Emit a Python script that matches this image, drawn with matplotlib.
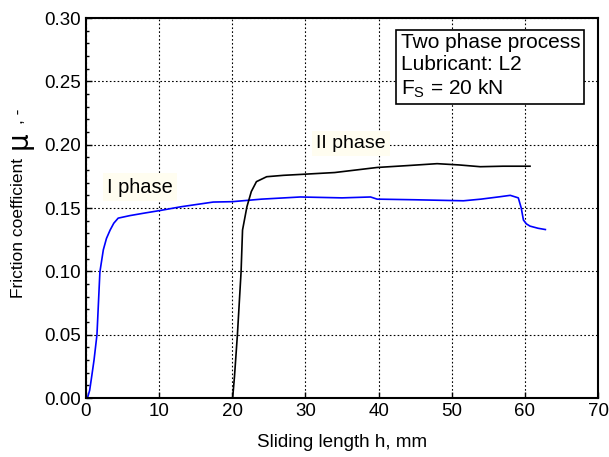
import numpy as np
import matplotlib
matplotlib.use("Agg")
from matplotlib import pyplot as plt
from matplotlib.ticker import MultipleLocator

plt.rcParams['font.family'] = ['Liberation Sans', 'DejaVu Sans']

# phase I (blue)
h_1 = [0.2, 0.5, 0.78, 1.1, 1.5, 1.9, 2.37, 2.8, 3.3, 3.8, 4.4, 6.0, 8.0,
       10.1, 13.0, 17.4, 20.0, 24.0, 29.3, 35.0, 38.9, 39.8, 45.0, 51.6,
       54.0, 56.6, 58.0, 59.1, 59.5, 59.8, 60.2, 60.7, 61.8, 62.8]
mu_1 = [0.0, 0.006, 0.017, 0.03, 0.05, 0.0995, 0.117, 0.126, 0.1326, 0.138,
        0.142, 0.144, 0.146, 0.148, 0.151, 0.1547, 0.155, 0.157, 0.1587,
        0.158, 0.1587, 0.157, 0.1565, 0.1557, 0.157, 0.1589, 0.160, 0.158,
        0.150, 0.1405, 0.1375, 0.1357, 0.134, 0.133]

# phase II (black)
h_2 = [20.05, 20.3, 20.7, 21.2, 21.4, 22.0, 22.6, 23.3, 24.7, 27.0, 29.3,
       34.0, 39.8, 44.0, 48.0, 51.0, 53.9, 57.0, 60.7]
mu_2 = [0.0, 0.017, 0.05, 0.0995, 0.1326, 0.151, 0.163, 0.1708, 0.1747,
        0.1758, 0.1765, 0.178, 0.182, 0.1835, 0.185, 0.184, 0.1826, 0.183,
        0.183]

fig = plt.figure(figsize=(6.09, 4.57), dpi=100)
ax = fig.add_axes([0.1412, 0.1291, 0.8408, 0.8315])

ax.plot(h_1, mu_1, color='#0000ff', lw=1.2)
ax.plot(h_2, mu_2, color='black', lw=1.2)

ax.set_xlim(0, 70)
ax.set_ylim(0, 0.30)
ax.set_xticks(np.arange(0, 71, 10))
ax.set_yticks(np.arange(0, 0.31, 0.05))
ax.set_yticklabels(['%.2f' % v for v in np.arange(0, 0.31, 0.05)])
ax.yaxis.set_minor_locator(MultipleLocator(0.01))
ax.tick_params(direction='in', labelsize=13.5, length=4, width=1)
ax.tick_params(which='minor', direction='in', length=2.5, width=1)
ax.grid(True, which='major', color='black', linestyle=(0, (1.5, 2)), lw=0.8)
for s in ax.spines.values():
    s.set_linewidth(1.5)

ax.set_xlabel('Sliding length h, mm', fontsize=13.6, labelpad=10)
# y label with the larger upright mu
fig.text(0.031, 0.501, 'Friction coefficient', fontsize=12.5, rotation=90,
         ha='center', va='center')
fig.text(0.030, 0.694, '\u03bc', fontsize=20, rotation=90,
         ha='center', va='center', family=['DejaVu Sans'])
fig.text(0.031, 0.745, ', -', fontsize=12.5, rotation=90,
         ha='center', va='center')

bg = dict(facecolor='#fffdf0', edgecolor='none', pad=3)
ax.text(7.4, 0.1665, 'I phase', fontsize=14.4, ha='center', va='center', bbox=bg)
ax.text(36.2, 0.201, 'II phase', fontsize=14, ha='center', va='center', bbox=bg)

ax.text(43.0, 0.2885, 'Two phase process\nLubricant: L2\nF$_\\mathregular{S}$ = 20 kN',
        fontsize=15, ha='left', va='top', linespacing=1.2,
        bbox=dict(facecolor='white', edgecolor='black', lw=1.2, pad=3))

fig.savefig('out.png', dpi=100)
